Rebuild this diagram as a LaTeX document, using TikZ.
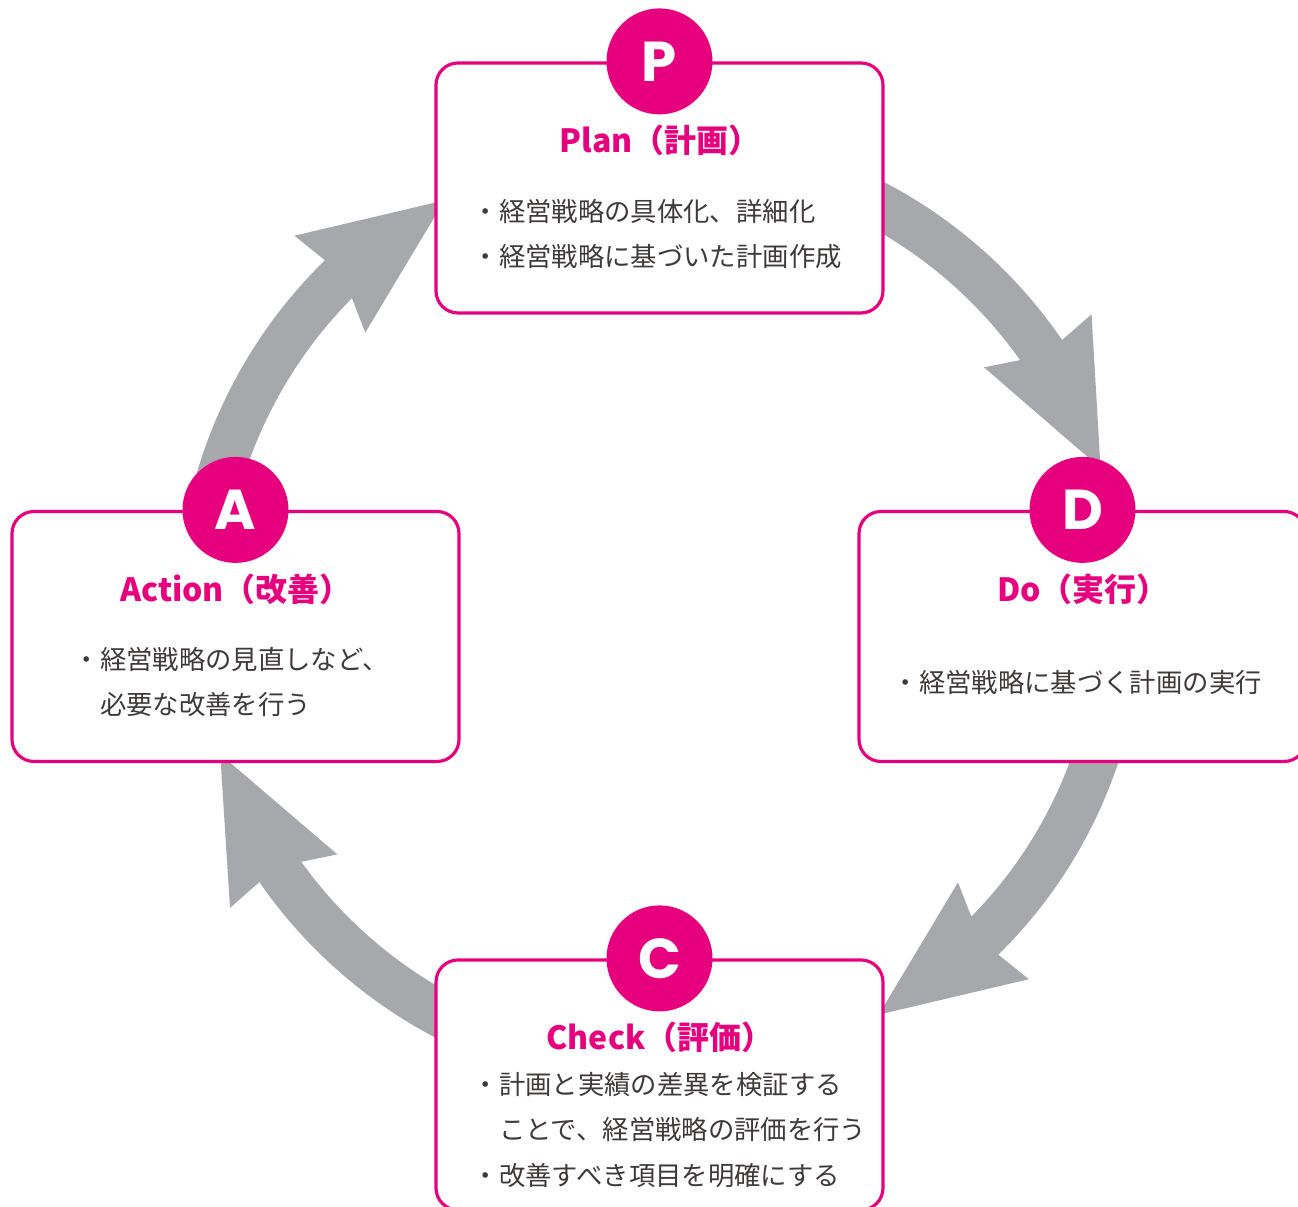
\documentclass[tikz,border=0pt]{standalone}
\usepackage{fontspec}
\newfontfamily\jpfont{Noto Sans CJK JP}
\newfontfamily\capfont{Poppins}
\usepackage{tikz}
\usetikzlibrary{arrows.meta,bending}
\usepackage{xcolor}
\definecolor{pdcamag}{RGB}{230,0,126}
\definecolor{pdcagray}{RGB}{167,168,172}
\definecolor{pdcatext}{RGB}{62,58,57}

\begin{document}
\begin{tikzpicture}[
  phasebox/.style={draw=pdcamag, line width=0.9pt, fill=white, rounded corners=0.22cm, minimum width=4.47cm, minimum height=2.5cm},
  phasedot/.style={circle, fill=pdcamag, minimum size=1.06cm, inner sep=0pt, text=white, font=\capfont\bfseries\fontsize{16}{16}\selectfont},
  phasetitle/.style={text=pdcamag, inner sep=0pt, font=\jpfont\bfseries\fontsize{9.1}{11}\selectfont},
  phasetext/.style={text=pdcatext, align=left, anchor=west, inner sep=0pt, font=\jpfont\fontsize{7.5}{13}\selectfont},
  cyclearrow/.style={draw=pdcagray, line width=0.46cm, -{Stealth[length=1.42cm, width=1.2cm, inset=0.16cm, line width=0pt]}}]
\useasboundingbox (0,0) rectangle (12.98,12.07);
\coordinate (hub) at (6.60,5.97);
\draw[cyclearrow] (hub) ++(68:4.6) arc[start angle=68, end angle=18.6, radius=4.68];
\draw[cyclearrow] (hub) ++(-12:4.6) arc[start angle=-12, end angle=-61.6, radius=4.6];
\draw[cyclearrow] (hub) ++(248:4.6) arc[start angle=248, end angle=198.9, radius=4.68];
\draw[cyclearrow] (hub) ++(168:4.6) arc[start angle=168, end angle=118.5, radius=4.68];
\node[phasebox] (plan) at (6.595,10.19) {};
\node[phasebox] (do) at (10.825,5.705) {};
\node[phasebox] (check) at (6.595,1.22) {};
\node[phasebox] (action) at (2.355,5.705) {};
\node[phasedot] (p) at (plan.north) {P};
\node[phasedot] (d) at (do.north) {D};
\node[phasedot] (c) at (check.north) {C};
\node[phasedot] (a) at (action.north) {A};
\node[phasetitle] (plantitle) at (6.60,10.67) {Plan（計画）};
\node[phasetitle] (dotitle) at (10.83,6.18) {Do（実行）};
\node[phasetitle] (checktitle) at (6.60,1.70) {Check（評価）};
\node[phasetitle] (actiontitle) at (2.36,6.18) {Action（改善）};
\node[phasetext] (plantext) at (4.72,9.73) {・経営戦略の具体化、詳細化\\・経営戦略に基づいた計画作成};
\node[phasetext] (dotext) at (8.92,5.25) {・経営戦略に基づく計画の実行};
\node[phasetext] (checktext) at (4.72,0.77) {・計画と実績の差異を検証する\\\hspace*{1em}ことで、経営戦略の評価を行う\\・改善すべき項目を明確にする};
\node[phasetext] (actiontext) at (0.73,5.25) {・経営戦略の見直しなど、\\\hspace*{1em}必要な改善を行う};
\end{tikzpicture}
\end{document}
